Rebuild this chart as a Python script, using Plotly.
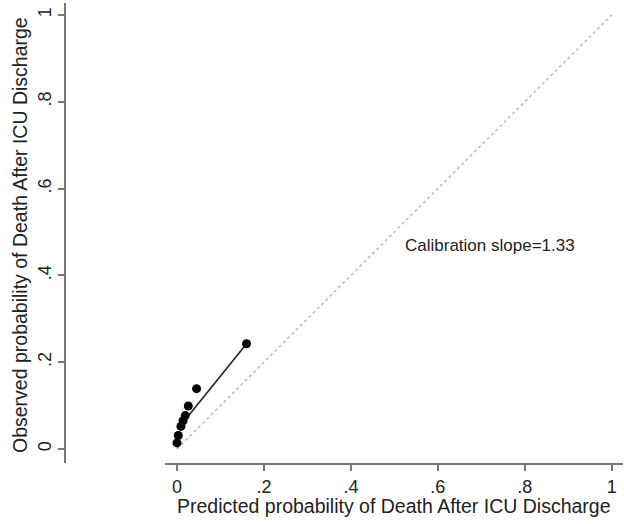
import plotly.graph_objects as go

# Data
pred = [0.000, 0.003, 0.009, 0.014, 0.019, 0.026, 0.045, 0.160]
obs = [0.014, 0.031, 0.052, 0.065, 0.077, 0.099, 0.139, 0.2425]
fit_x = [0.005, 0.160]
fit_y = [0.050, 0.2425]
ref_x = [0, 1]
ref_y = [0, 1]
tick_vals = [0, 0.2, 0.4, 0.6, 0.8, 1]
tick_text = ["0", ".2", ".4", ".6", ".8", "1"]
annot_text = "Calibration slope=1.33"
x_title = "Predicted probability of Death After ICU Discharge"
y_title = "Observed probability of Death After ICU Discharge"

W, H = 624, 524
FONT = "Liberation Sans, Arial, sans-serif"
AXIS_COL = "#777777"
TXT = "#222222"

fig = go.Figure()
fig.add_trace(go.Scatter(x=ref_x, y=ref_y, mode="lines",
                         line=dict(color="#bbbbbb", width=1.5, dash="dot"),
                         hoverinfo="skip", showlegend=False))
fig.add_trace(go.Scatter(x=fit_x, y=fit_y, mode="lines",
                         line=dict(color="#222222", width=1.6),
                         showlegend=False))
fig.add_trace(go.Scatter(x=pred, y=obs, mode="markers",
                         marker=dict(color="black", size=9),
                         showlegend=False))

fig.add_annotation(x=0.52, y=0.47, xref="x", yref="y", text=annot_text,
                   showarrow=False, xanchor="left", yanchor="middle",
                   font=dict(family=FONT, size=17, color=TXT))
fig.add_annotation(x=394 / W, y=1 - 506 / H, xref="paper", yref="paper",
                   text=x_title, showarrow=False, xanchor="center", yanchor="middle",
                   font=dict(family=FONT, size=19.5, color=TXT))
fig.add_annotation(x=20 / W, y=1 - 235 / H, xref="paper", yref="paper",
                   text=y_title, showarrow=False, textangle=-90,
                   xanchor="center", yanchor="middle",
                   font=dict(family=FONT, size=19.5, color=TXT))

fig.update_layout(
    width=W, height=H,
    margin=dict(l=0, r=0, t=0, b=0),
    paper_bgcolor="white", plot_bgcolor="white",
    font=dict(family=FONT, size=18, color=TXT),
    xaxis=dict(domain=[165 / W, 623 / W], range=[-0.0276, 1.026],
               tickvals=tick_vals, ticktext=tick_text,
               showgrid=False, zeroline=False, showline=True,
               linecolor=AXIS_COL, linewidth=2,
               ticks="outside", ticklen=6, tickwidth=1.5, tickcolor=AXIS_COL,
               anchor="y", automargin=False),
    yaxis=dict(domain=[1 - 463 / H, 1 - 3 / H], range=[-0.0323, 1.0276],
               tickvals=tick_vals, ticktext=tick_text, tickangle=-90,
               showgrid=False, zeroline=False, showline=True,
               linecolor=AXIS_COL, linewidth=2,
               ticks="outside", ticklen=6, tickwidth=1.5, tickcolor=AXIS_COL,
               anchor="free", position=65 / W, automargin=False),
)

fig.write_html("out.html",
               config={"displayModeBar": False},
               post_script="document.body.style.margin='0';document.body.style.overflow='hidden';")
